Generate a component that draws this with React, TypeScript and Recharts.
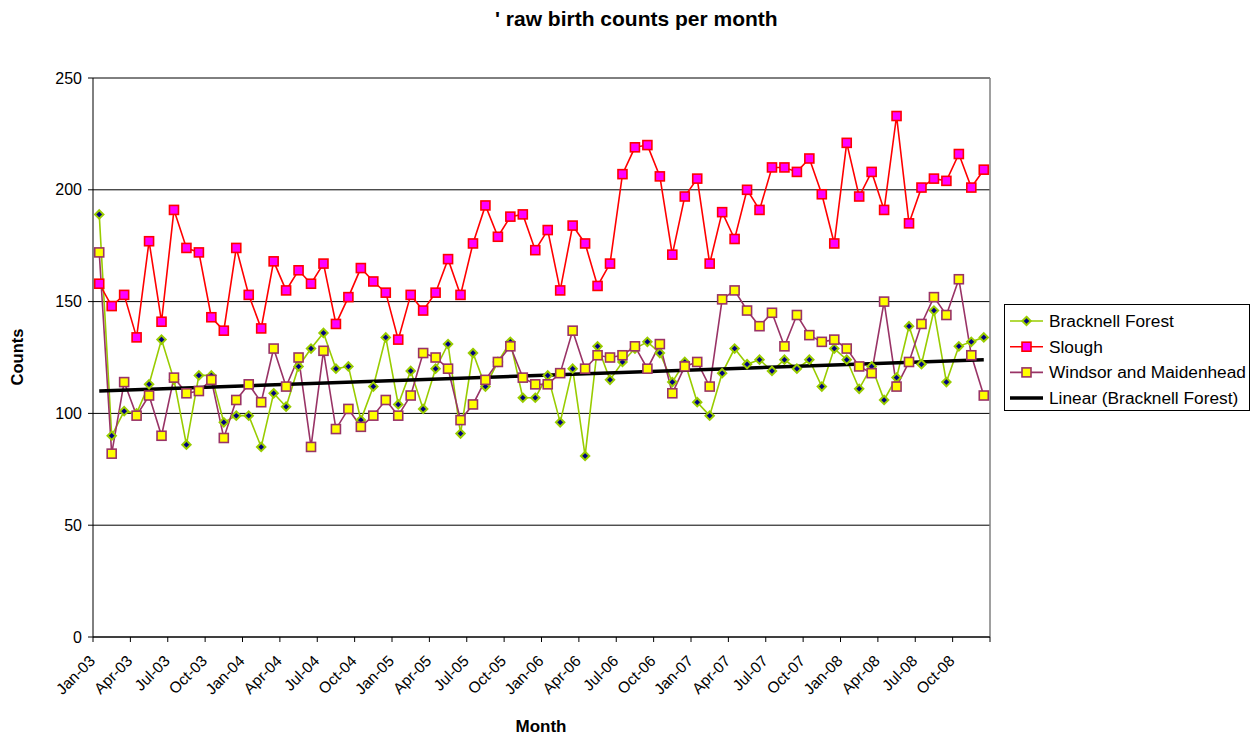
import React from 'react';
import { LineChart, Line, XAxis, YAxis, CartesianGrid, ReferenceLine } from 'recharts';

const tickLabels = [
  'Jan-03', 'Apr-03', 'Jul-03', 'Oct-03',
  'Jan-04', 'Apr-04', 'Jul-04', 'Oct-04',
  'Jan-05', 'Apr-05', 'Jul-05', 'Oct-05',
  'Jan-06', 'Apr-06', 'Jul-06', 'Oct-06',
  'Jan-07', 'Apr-07', 'Jul-07', 'Oct-07',
  'Jan-08', 'Apr-08', 'Jul-08', 'Oct-08',
];

const bracknell = [
  189, 90, 101, 100, 113, 133, 115, 86, 117, 117, 96, 99,
  99, 85, 109, 103, 121, 129, 136, 120, 121, 97, 112, 134,
  104, 119, 102, 120, 131, 91, 127, 112, 123, 132, 107, 107,
  117, 96, 120, 81, 130, 115, 123, 129, 132, 127, 114, 123,
  105, 99, 118, 129, 122, 124, 119, 124, 120, 124, 112, 129,
  124, 111, 121, 106, 116, 139, 122, 146, 114, 130, 132, 134,
];

const slough = [
  158, 148, 153, 134, 177, 141, 191, 174, 172, 143, 137, 174,
  153, 138, 168, 155, 164, 158, 167, 140, 152, 165, 159, 154,
  133, 153, 146, 154, 169, 153, 176, 193, 179, 188, 189, 173,
  182, 155, 184, 176, 157, 167, 207, 219, 220, 206, 171, 197,
  205, 167, 190, 178, 200, 191, 210, 210, 208, 214, 198, 176,
  221, 197, 208, 191, 233, 185, 201, 205, 204, 216, 201, 209,
];

const windsor = [
  172, 82, 114, 99, 108, 90, 116, 109, 110, 115, 89, 106,
  113, 105, 129, 112, 125, 85, 128, 93, 102, 94, 99, 106,
  99, 108, 127, 125, 120, 97, 104, 115, 123, 130, 116, 113,
  113, 118, 137, 120, 126, 125, 126, 130, 120, 131, 109, 121,
  123, 112, 151, 155, 146, 139, 145, 130, 144, 135, 132, 133,
  129, 121, 118, 150, 112, 123, 140, 152, 144, 160, 126, 108,
];

// Linear trend of Bracknell Forest, end values
const trendValues = [110, 124];

const yTicks = [0, 50, 100, 150, 200, 250];

const data = bracknell.map((b, i) => ({
  x: i + 0.5,
  bracknell: b,
  slough: slough[i],
  windsor: windsor[i],
}));

const trendData = [
  { x: 0.5, trend: trendValues[0] },
  { x: bracknell.length - 0.5, trend: trendValues[1] },
];

const xTicks = [...tickLabels.map((_, i) => i * 3), bracknell.length];

const FONT = '"Liberation Sans", Arial, sans-serif';

const GREEN = '#99CC00';
const NAVY = '#000080';
const RED = '#FF0000';
const MAGENTA = '#FF00FF';
const PURPLE = '#993366';
const YELLOW = '#FFFF00';

const diamondDot = (props: any) => {
  const { cx, cy, index } = props;
  if (cx == null || cy == null) return <g key={'bd' + index} />;
  const r = 4.2;
  return (
    <path
      key={'bd' + index}
      d={`M${cx},${cy - r}L${cx + r},${cy}L${cx},${cy + r}L${cx - r},${cy}Z`}
      fill={NAVY}
      stroke={GREEN}
      strokeWidth={2}
    />
  );
};

const squareDot = (fill: string, stroke: string, prefix: string) => (props: any) => {
  const { cx, cy, index } = props;
  if (cx == null || cy == null) return <g key={prefix + index} />;
  const s = 9;
  return (
    <rect
      key={prefix + index}
      x={cx - s / 2}
      y={cy - s / 2}
      width={s}
      height={s}
      fill={fill}
      stroke={stroke}
      strokeWidth={1.6}
    />
  );
};

const XTick = (props: any) => {
  const { x, y, payload } = props;
  const idx = Math.round(payload.value / 3);
  const label = idx < tickLabels.length ? tickLabels[idx] : '';
  return (
    <g transform={`translate(${x + 3},${y + 18})`}>
      <text
        x={0}
        y={0}
        textAnchor="end"
        transform="rotate(-45)"
        fontSize={15.5}
        fontFamily={FONT}
        fill="#000"
      >
        {label}
      </text>
    </g>
  );
};

const legendItems = [
  { name: 'Bracknell Forest', kind: 'diamond' },
  { name: 'Slough', kind: 'slough' },
  { name: 'Windsor and Maidenhead', kind: 'windsor' },
  { name: 'Linear (Bracknell Forest)', kind: 'trend' },
];

const LegendIcon = ({ kind, cy }: { kind: string; cy: number }) => {
  const x1 = 1010;
  const x2 = 1043;
  const cx = (x1 + x2) / 2;
  if (kind === 'diamond') {
    const r = 4.2;
    return (
      <g>
        <line x1={x1} x2={x2} y1={cy} y2={cy} stroke={GREEN} strokeWidth={1.6} />
        <path
          d={`M${cx},${cy - r}L${cx + r},${cy}L${cx},${cy + r}L${cx - r},${cy}Z`}
          fill={NAVY}
          stroke={GREEN}
          strokeWidth={2}
        />
      </g>
    );
  }
  if (kind === 'slough' || kind === 'windsor') {
    const line = kind === 'slough' ? RED : PURPLE;
    const fill = kind === 'slough' ? MAGENTA : YELLOW;
    return (
      <g>
        <line x1={x1} x2={x2} y1={cy} y2={cy} stroke={line} strokeWidth={1.6} />
        <rect x={cx - 4.5} y={cy - 4.5} width={9} height={9} fill={fill} stroke={line} strokeWidth={1.6} />
      </g>
    );
  }
  return <line x1={x1} x2={x2} y1={cy} y2={cy} stroke="#000" strokeWidth={3.5} />;
};

export default function App() {
  return (
    <div style={{ position: 'absolute', left: 0, top: 0, width: 1252, height: 736, background: '#fff' }}>
      <LineChart
        width={1252}
        height={736}
        data={data}
        margin={{ top: 78, right: 262, bottom: 0, left: 0 }}
      >
        <CartesianGrid horizontal vertical={false} stroke="#000" strokeWidth={1} />
        <XAxis
          dataKey="x"
          type="number"
          domain={[0, bracknell.length]}
          ticks={xTicks}
          interval={0}
          height={99}
          tick={<XTick />}
          tickSize={5}
          tickLine={{ stroke: '#000' }}
          axisLine={{ stroke: '#000' }}
          allowDataOverflow
        />
        <YAxis
          type="number"
          domain={[0, 250]}
          ticks={yTicks}
          interval={0}
          width={93}
          tickSize={5}
          tickMargin={6}
          tick={{ fontSize: 16, fontFamily: FONT, fill: '#000' }}
          tickLine={{ stroke: '#000' }}
          axisLine={{ stroke: '#000' }}
        />
        <ReferenceLine x={bracknell.length} stroke="#808080" strokeWidth={1.5} />
        <Line
          dataKey="bracknell"
          stroke={GREEN}
          strokeWidth={1.6}
          dot={diamondDot}
          activeDot={false}
          isAnimationActive={false}
        />
        <Line
          dataKey="slough"
          stroke={RED}
          strokeWidth={1.6}
          dot={squareDot(MAGENTA, RED, 'sd')}
          activeDot={false}
          isAnimationActive={false}
        />
        <Line
          dataKey="windsor"
          stroke={PURPLE}
          strokeWidth={1.6}
          dot={squareDot(YELLOW, PURPLE, 'wd')}
          activeDot={false}
          isAnimationActive={false}
        />
        <Line
          data={trendData}
          dataKey="trend"
          stroke="#000"
          strokeWidth={3.5}
          dot={false}
          activeDot={false}
          isAnimationActive={false}
        />
      </LineChart>
      <svg
        width={1252}
        height={736}
        style={{ position: 'absolute', left: 0, top: 0, pointerEvents: 'none' }}
      >
        <text x={495} y={26} fontSize={21} fontWeight="bold" fontFamily={FONT} fill="#000">
          ' raw birth counts per month
        </text>
        <text
          transform="translate(23,357) rotate(-90)"
          textAnchor="middle"
          fontSize={16.5}
          fontWeight="bold"
          fontFamily={FONT}
          fill="#000"
        >
          Counts
        </text>
        <text x={541} y={732} textAnchor="middle" fontSize={17} fontWeight="bold" fontFamily={FONT} fill="#000">
          Month
        </text>
        <rect x={1004.5} y={304.5} width={245} height={106} fill="#fff" stroke="#000" strokeWidth={1} />
        {legendItems.map((item, i) => {
          const cy = 321 + i * 25.7;
          return (
            <g key={item.name}>
              <LegendIcon kind={item.kind} cy={cy} />
              <text x={1049} y={cy + 6} fontSize={17.3} fontFamily={FONT} fill="#000">
                {item.name}
              </text>
            </g>
          );
        })}
      </svg>
    </div>
  );
}
